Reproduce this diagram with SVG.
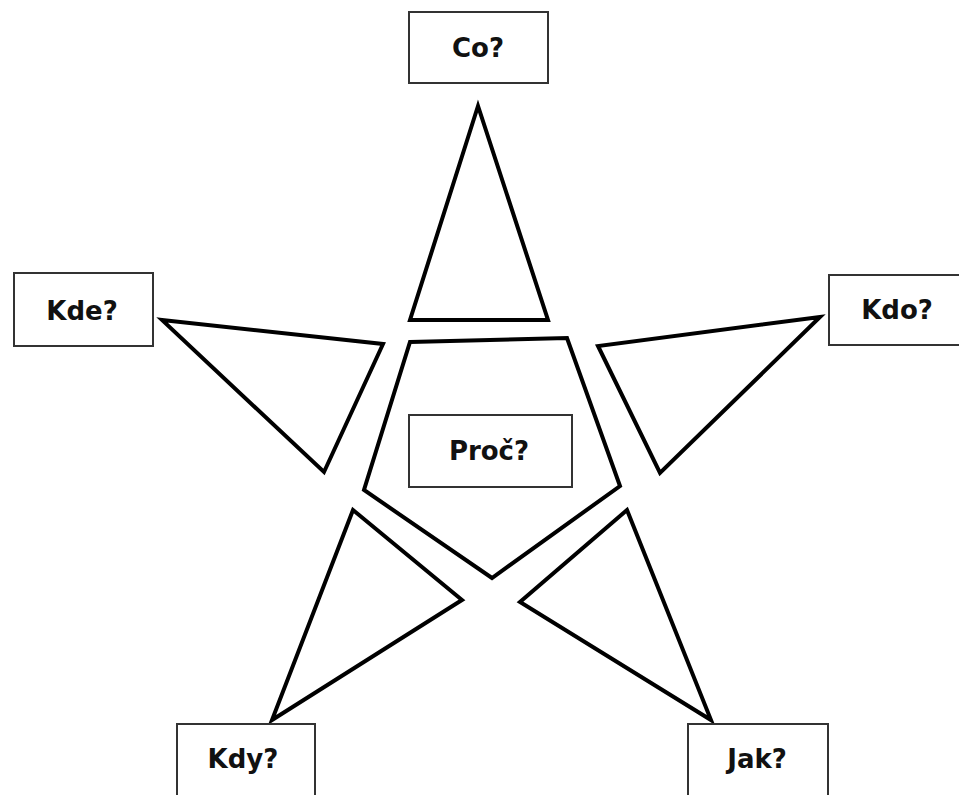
<svg xmlns="http://www.w3.org/2000/svg" width="959" height="795" viewBox="0 0 959 795">
<style>
.shape{fill:#fff;stroke:#000;stroke-width:4;stroke-linejoin:miter}
.box{fill:#fff;stroke:#333;stroke-width:2}
.lbl{font-family:"DejaVu Sans",Verdana,sans-serif;font-weight:bold;font-size:26px;fill:#111;text-anchor:middle}
</style>
<rect width="959" height="795" fill="#fff"/>
<g id="connectors">
<polygon class="shape" points="478,106 410,320 548,320"/>
<polygon class="shape" points="162,320 383,344 324,472"/>
<polygon class="shape" points="820,317 598,346 660,473"/>
<polygon class="shape" points="353,510 462,600 272,720"/>
<polygon class="shape" points="627,510 520,602 711,720"/>
</g>
<g id="center">
<polygon class="shape" points="410,342 567,338 620,486 492,578 364,490"/>
</g>
<g id="proc"><rect class="box" x="409" y="415" width="163" height="72"/><text class="lbl" x="489" y="460">Proč?</text></g>
<g id="co"><rect class="box" x="409" y="12" width="139" height="71"/><text class="lbl" x="478" y="57">Co?</text></g>
<g id="kde"><rect class="box" x="14" y="273" width="139" height="73"/><text class="lbl" x="82" y="320">Kde?</text></g>
<g id="kdo"><rect class="box" x="829" y="275" width="140" height="70"/><text class="lbl" x="897" y="319">Kdo?</text></g>
<g id="kdy"><rect class="box" x="177" y="724" width="138" height="80"/><text class="lbl" x="243" y="768">Kdy?</text></g>
<g id="jak"><rect class="box" x="688" y="724" width="140" height="80"/><text class="lbl" x="757" y="768">Jak?</text></g>
</svg>
